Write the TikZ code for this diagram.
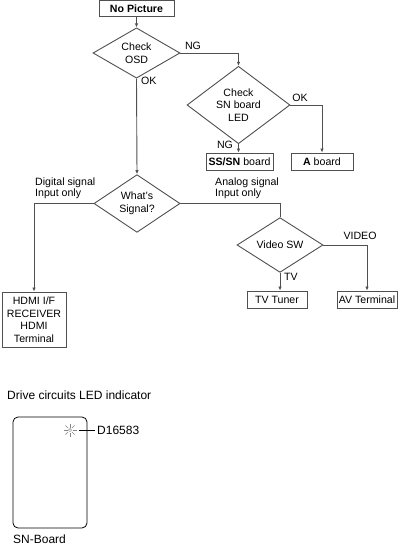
\documentclass[tikz,border=0pt]{standalone}
\usepackage{fontspec}
\setmainfont{Liberation Sans}
\usetikzlibrary{shapes.geometric,arrows.meta,calc}
\definecolor{ln}{HTML}{505050}
\tikzset{
  fc/.style={font=\fontsize{10.6}{12.5}\selectfont, text=black, align=center, inner sep=0pt},
  box/.style={fc, draw=ln, line width=0.9pt, rectangle},
  dia/.style={fc, draw=ln, line width=0.9pt, diamond},
  wire/.style={draw=ln, line width=0.9pt},
  arr/.style={wire, -{Latex[length=4pt,width=3.5pt]}},
  lbl/.style={font=\fontsize{10.6}{11.5}\selectfont, text=black, inner sep=0pt},
  big/.style={font=\fontsize{12}{14}\selectfont, text=black, inner sep=0pt}
}
\begin{document}
\begin{tikzpicture}[x=1pt,y=-1pt]
\useasboundingbox (0,0) rectangle (400,546);
% nodes
\node[box, minimum width=75, minimum height=16] (nopic) at (136.5,8.5) {\textbf{No Picture}};
\node[dia, minimum width=87, minimum height=44] (osd) at (136.5,53) {Check\\OSD};
\node[dia, minimum width=103, minimum height=71] (sn) at (238.5,105) {Check\\SN board\\LED};
\node[box, minimum width=67, minimum height=17] (ss) at (239.5,161.5) {\textbf{SS/SN} board};
\node[box, minimum width=62, minimum height=17] (ab) at (322,161.5) {\textbf{A} board};
\node[dia, minimum width=86, minimum height=45] (sig) at (137,203.5) {What's\\Signal?};
\node[box, minimum width=64, minimum height=55] (hdmi) at (34,319.5) {HDMI I/F\\RECEIVER\\HDMI\\Terminal};
\node[dia, minimum width=86, minimum height=44] (vsw) at (280,245) {Video SW};
\node[box, minimum width=60, minimum height=17] (tv) at (277,299.5) {TV Tuner};
\node[box, minimum width=60, minimum height=17] (av) at (367,299.5) {AV Terminal};
% connectors
\draw[arr] (nopic.south) -- (osd.north);
\draw[arr] (osd.east) -| (sn.north);
\draw[arr] (sn.east) -| (ab.north);
\draw[arr] (sn.south) -- (sn.south |- ss.north);
\draw[arr] (osd.south) -- (sig.north);
\draw[arr] (sig.west) -| (hdmi.north);
\draw[wire] (sig.east) -| (vsw.north);
\draw[arr] (vsw.south) -- (vsw.south |- tv.north);
\draw[arr] (vsw.east) -| (av.north);
% labels
\node[lbl] (lng1) at (193,46) {NG};
\node[lbl, anchor=west] (lok1) at (141,81) {OK};
\node[lbl] (lok2) at (300,98) {OK};
\node[lbl] (lng2) at (225,145) {NG};
\node[lbl, align=left, anchor=west] (ldig) at (35,188.5) {Digital signal\\Input only};
\node[lbl, align=left, anchor=west] (lana) at (215,188.5) {Analog signal\\Input only};
\node[lbl] (lvid) at (360,236) {VIDEO};
\node[lbl, anchor=west] (ltv) at (284,277) {TV};
% bottom
\node[big, anchor=west] (title) at (7,395) {Drive circuits LED indicator};
\node[draw=black, line width=0.8pt, rounded corners=5pt, minimum width=74, minimum height=111, inner sep=0pt] (board) at (50,472.5) {};
\coordinate (led) at (70,430);
\foreach \a in {0,45,...,315}
  \draw[ln!70, line width=0.5pt] ($(led)+(\a:2.5)$) -- ($(led)+(\a:6.5)$);
\draw[ln!70, line width=0.5pt] (led) circle (1.6);
\node[big, anchor=west] (dled) at (97,430) {D16583};
\coordinate (lstart) at (79,430);
\draw[black, line width=0.6pt, shorten >=2.5pt] (lstart) -- (dled.west);
\node[big, anchor=west] (snb) at (13,539) {SN-Board};
\end{tikzpicture}
\end{document}
